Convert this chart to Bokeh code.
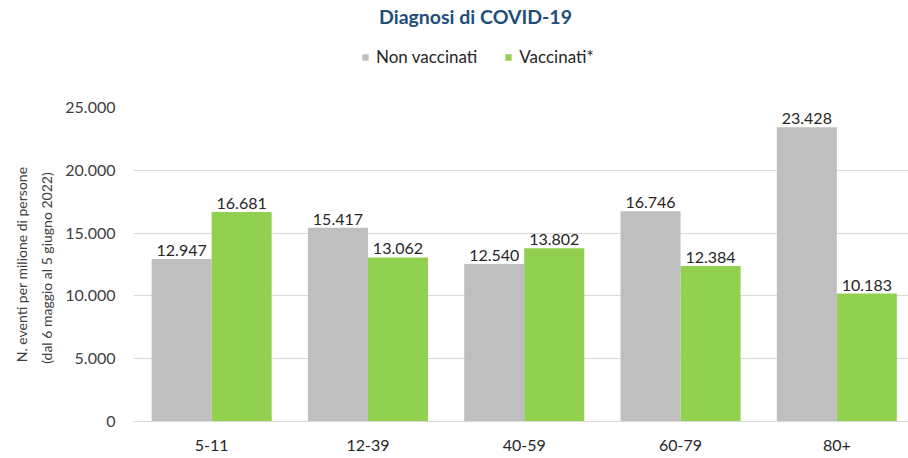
from bokeh.plotting import figure
from bokeh.layouts import column
from bokeh.models import (ColumnDataSource, Range1d, FixedTicker, LabelSet, Label,
                          Legend, LegendItem)
from bokeh.core.properties import value
from bokeh.transform import dodge
from bokeh.embed import file_html
from bokeh.resources import INLINE

# ---- data ----
categories = ["5-11", "12-39", "40-59", "60-79", "80+"]
non_vaccinati = [12947, 15417, 12540, 16746, 23428]
vaccinati = [16681, 13062, 13802, 12384, 10183]
y_ticks = [0, 5000, 10000, 15000, 20000, 25000]
title_text = "Diagnosi di COVID-19"
series_names = ["Non vaccinati", "Vaccinati*"]
y_axis_title = "N. eventi per milione di persone\n(dal 6  maggio al 5  giugno 2022)"

GRAY = "#BFBFBF"
GREEN = "#92D050"
FONT = "Lato"

W = 908
TOP_H = 80
MAIN_H = 458 - TOP_H
LEFT = 133


def it_fmt(v):
    return f"{v:,}".replace(",", ".")


# ---------------- header (title + legend) ----------------
top = figure(width=W, height=TOP_H, output_backend="svg", toolbar_location=None,
             x_range=Range1d(0, 1), y_range=Range1d(0, 1),
             min_border_left=LEFT, min_border_right=0, min_border_top=0, min_border_bottom=0)
top.axis.visible = False
top.grid.visible = False
top.outline_line_color = None
top.background_fill_color = "white"
top.border_fill_color = "white"

# off-screen stand-ins so that the legend can draw its colour keys
key_src = ColumnDataSource(dict(x=[-10], top=[0]))
r_non = top.vbar(x="x", top="top", width=0.1, source=key_src, fill_color=GRAY, line_color=None)
r_vac = top.vbar(x="x", top="top", width=0.1, source=key_src, fill_color=GREEN, line_color=None)

top.add_layout(Label(x=475 - LEFT, y=TOP_H - 16, x_units="screen", y_units="screen",
                     text=title_text, text_align="center", text_baseline="middle",
                     text_font=FONT, text_font_size="19.5px", text_font_style="bold",
                     text_color="#1F4E79"))

lg = Legend(items=[LegendItem(label=series_names[0], renderers=[r_non]),
                   LegendItem(label=series_names[1], renderers=[r_vac])],
            orientation="horizontal", location=(361 - LEFT, TOP_H - 67),
            background_fill_alpha=0, border_line_color=None, padding=0, margin=0,
            spacing=27, label_standoff=7, glyph_width=8, glyph_height=8, label_height=8,
            label_text_font=FONT, label_text_font_size="17px", label_text_color="#262626",
            label_text_baseline="middle")
top.add_layout(lg, "center")

# ---------------- main chart ----------------
idx = list(range(len(categories)))
src = ColumnDataSource(dict(
    x=idx,
    non=non_vaccinati,
    vac=vaccinati,
    non_lbl=[it_fmt(v) for v in non_vaccinati],
    vac_lbl=[it_fmt(v) for v in vaccinati],
))

p = figure(width=W, height=MAIN_H, output_backend="svg", toolbar_location=None,
           x_range=Range1d(-0.5, -0.5 + 775 / 156.3),
           y_range=Range1d(0, 25000),
           min_border_left=LEFT, min_border_right=0,
           min_border_top=107 - TOP_H, min_border_bottom=37)
p.outline_line_color = None
p.background_fill_color = "white"
p.border_fill_color = "white"

bw = 0.384
off = 0.192
p.vbar(x=dodge("x", -off, range=p.x_range), top="non", width=bw, source=src,
       fill_color=GRAY, line_color=None)
p.vbar(x=dodge("x", off, range=p.x_range), top="vac", width=bw, source=src,
       fill_color=GREEN, line_color=None)

for col, lbl, o in (("non", "non_lbl", -off), ("vac", "vac_lbl", off)):
    p.add_layout(LabelSet(x=dodge("x", o, range=p.x_range), y=col, text=lbl, source=src,
                          text_align="center", text_baseline="alphabetic", y_offset=3,
                          text_font=value(FONT), text_font_size=value("16px"),
                          text_color="#262626"))

# axes
p.xaxis.ticker = FixedTicker(ticks=idx)
p.xaxis.major_label_overrides = {i: c for i, c in zip(idx, categories)}
p.xaxis.axis_line_color = "#D9D9D9"
p.xaxis.axis_line_width = 1
p.xaxis.major_tick_line_color = None
p.xaxis.minor_tick_line_color = None
p.xaxis.major_tick_out = 0
p.xaxis.major_tick_in = 0
p.xaxis.minor_tick_out = 0
p.xaxis.major_label_text_font = FONT
p.xaxis.major_label_text_font_size = "16px"
p.xaxis.major_label_text_color = "#262626"
p.xaxis.major_label_standoff = 18

p.yaxis.ticker = FixedTicker(ticks=y_ticks)
p.yaxis.major_label_overrides = {t: it_fmt(t) for t in y_ticks}
p.yaxis.axis_line_color = None
p.yaxis.major_tick_line_color = None
p.yaxis.minor_tick_line_color = None
p.yaxis.major_tick_out = 0
p.yaxis.major_tick_in = 0
p.yaxis.minor_tick_out = 0
p.yaxis.major_label_text_font = FONT
p.yaxis.major_label_text_font_size = "16px"
p.yaxis.major_label_text_color = "#404040"
p.yaxis.major_label_standoff = 18
p.yaxis.axis_label = y_axis_title
p.yaxis.axis_label_text_font = FONT
p.yaxis.axis_label_text_font_size = "14px"
p.yaxis.axis_label_text_font_style = "normal"
p.yaxis.axis_label_text_color = "#404040"
p.yaxis.axis_label_text_line_height = 1.5
p.yaxis.axis_label_standoff = 7

p.xgrid.grid_line_color = None
p.ygrid.grid_line_color = "#D9D9D9"
p.ygrid.grid_line_width = 1

layout = column(top, p, spacing=0)
open("out.html", "w").write(file_html(layout, INLINE))
